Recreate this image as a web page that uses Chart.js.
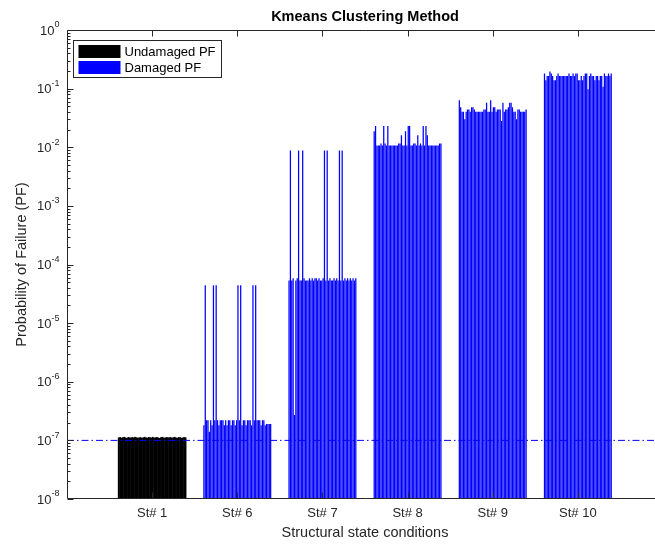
<!DOCTYPE html>
<html>
<head>
<meta charset="utf-8">
<script src="https://cdn.jsdelivr.net/npm/chart.js@4.4.1/dist/chart.umd.min.js"></script>
<style>
    html, body { margin: 0; padding: 0; background: #fff; overflow: hidden; }
    #wrap { width: 655px; height: 544px; overflow: hidden; }
</style>
</head>
<body>
<div id="wrap"><canvas id="pfChart" width="672" height="544"></canvas></div>
<script>
// structural states (x axis)
const states = ['St# 1', 'St# 6', 'St# 7', 'St# 8', 'St# 9', 'St# 10'];

// probability of failure per state, 50 samples each
const st1Pf = [
    1.10e-7, 1.12e-7, 1.09e-7, 1.11e-7, 1.13e-7, 1.10e-7, 1.08e-7, 1.12e-7, 1.11e-7, 1.09e-7,
    1.12e-7, 1.10e-7, 1.13e-7, 1.11e-7, 1.09e-7, 1.10e-7, 1.12e-7, 1.08e-7, 1.11e-7, 1.13e-7,
    1.10e-7, 1.09e-7, 1.12e-7, 1.11e-7, 1.10e-7, 1.13e-7, 1.09e-7, 1.11e-7, 1.12e-7, 1.10e-7,
    1.08e-7, 1.11e-7, 1.13e-7, 1.10e-7, 1.09e-7, 1.12e-7, 1.11e-7, 1.10e-7, 1.12e-7, 1.09e-7,
    1.11e-7, 1.13e-7, 1.10e-7, 1.08e-7, 1.12e-7, 1.11e-7, 1.09e-7, 1.10e-7, 1.12e-7, 1.11e-7
];
const st6Pf = [
    1.8e-7, 4.4e-5, 2.2e-7, 2.2e-7, 1.4e-7, 2.2e-7, 1.8e-7, 4.4e-5, 2.2e-7, 4.4e-5,
    2.2e-7, 1.8e-7, 2.2e-7, 2.2e-7, 2.2e-7, 1.8e-7, 2.2e-7, 1.8e-7, 2.2e-7, 2.2e-7,
    1.8e-7, 2.2e-7, 2.2e-7, 1.8e-7, 2.2e-7, 4.4e-5, 2.2e-7, 4.4e-5, 1.8e-7, 2.2e-7,
    2.2e-7, 1.8e-7, 2.2e-7, 2.2e-7, 2.2e-7, 1.8e-7, 4.4e-5, 2.2e-7, 4.4e-5, 2.2e-7,
    2.2e-7, 2.2e-7, 1.8e-7, 2.2e-7, 2.2e-7, 1.8e-7, 1.9e-7, 1.9e-7, 1.9e-7, 1.9e-7
];
const st7Pf = [
    5.3e-5, 8.8e-3, 5.3e-5, 5.8e-5, 2.7e-7, 5.3e-5, 5.8e-5, 8.8e-3, 5.3e-5, 5.3e-5,
    8.8e-3, 5.8e-5, 5.3e-5, 5.3e-5, 5.3e-5, 5.8e-5, 5.3e-5, 5.8e-5, 5.3e-5, 5.8e-5,
    5.8e-5, 5.3e-5, 5.8e-5, 5.3e-5, 5.3e-5, 5.8e-5, 8.8e-3, 5.3e-5, 8.8e-3, 5.3e-5,
    5.8e-5, 5.3e-5, 5.3e-5, 5.8e-5, 5.3e-5, 5.8e-5, 5.3e-5, 8.8e-3, 5.3e-5, 8.8e-3,
    5.3e-5, 5.8e-5, 5.3e-5, 5.8e-5, 5.3e-5, 5.8e-5, 5.3e-5, 5.8e-5, 5.3e-5, 5.8e-5
];
const st8Pf = [
    0.0186, 0.023, 0.0107, 0.0107, 0.0107, 0.0115, 0.0107, 0.023, 0.0115, 0.0107,
    0.023, 0.0107, 0.0107, 0.0107, 0.0107, 0.0107, 0.0107, 0.0107, 0.0115, 0.0115,
    0.016, 0.0107, 0.0107, 0.0186, 0.0107, 0.023, 0.023, 0.0107, 0.0107, 0.0115,
    0.0115, 0.0107, 0.016, 0.0107, 0.0115, 0.0107, 0.023, 0.0107, 0.023, 0.016,
    0.0107, 0.0107, 0.0107, 0.0107, 0.0107, 0.0107, 0.0107, 0.0107, 0.0115, 0.0115
];
const st9Pf = [
    0.063, 0.048, 0.040, 0.040, 0.030, 0.040, 0.044, 0.044, 0.040, 0.048,
    0.048, 0.044, 0.040, 0.040, 0.040, 0.040, 0.040, 0.040, 0.044, 0.044,
    0.057, 0.040, 0.040, 0.063, 0.040, 0.048, 0.048, 0.040, 0.044, 0.044,
    0.044, 0.028, 0.057, 0.040, 0.044, 0.044, 0.048, 0.057, 0.057, 0.048,
    0.040, 0.040, 0.030, 0.044, 0.044, 0.040, 0.040, 0.040, 0.040, 0.044
];
const st10Pf = [
    0.180, 0.138, 0.164, 0.164, 0.195, 0.180, 0.164, 0.138, 0.138, 0.164,
    0.180, 0.164, 0.164, 0.164, 0.164, 0.164, 0.164, 0.164, 0.180, 0.164,
    0.164, 0.180, 0.164, 0.180, 0.180, 0.138, 0.138, 0.164, 0.138, 0.164,
    0.180, 0.180, 0.097, 0.164, 0.180, 0.164, 0.164, 0.138, 0.164, 0.164,
    0.138, 0.164, 0.164, 0.107, 0.180, 0.164, 0.164, 0.180, 0.164, 0.180
];

// target PF (dash-dot line) and y tick exponents
const targetPf = 1e-7;
const yTickExps = [-8, -7, -6, -5, -4, -3, -2, -1, 0];

// colours
const undamagedColor = '#000000';
const damagedColor = '#0000ff';
const axisColor = '#262626';
const stateColors = [undamagedColor, damagedColor, damagedColor, damagedColor, damagedColor, damagedColor];

const statePf = [st1Pf, st6Pf, st7Pf, st8Pf, st9Pf, st10Pf];
const fontFamily = '"Liberation Sans", Arial, Helvetica, sans-serif';

// empty slots at both ends give the x range [0, 7]
const labels = [''].concat(states, ['']);

// one bar dataset per sample
const datasets = st1Pf.map((_, j) => ({
    type: 'bar',
    data: [null].concat(statePf.map(pf => pf[j]), [null]),
    backgroundColor: [null].concat(stateColors, [null]),
    borderWidth: 0,
    barPercentage: 0.8,
    categoryPercentage: 0.8,
    // undamaged bars touch each other (solid black block)
    inflateAmount: ctx => (ctx.dataIndex === 1 ? 0.4 : 0.08),
    order: 1
}));

datasets.push({
    type: 'line',
    data: labels.map(() => targetPf),
    borderColor: damagedColor,
    borderWidth: 1,
    borderDash: [7, 3, 1.5, 3],
    pointRadius: 0,
    fill: false,
    order: 0
});

// axes box, ticks, texts and legend in MATLAB style
const matlabAxes = {
    id: 'matlabAxes',
    afterDraw(chart) {
        const { ctx, chartArea: a, scales: { x, y } } = chart;
        const L = Math.round(a.left) + 0.5;
        const T = Math.round(a.top) + 0.5;
        const B = Math.round(a.bottom) - 0.5;
        const R = a.right;

        ctx.save();
        ctx.strokeStyle = axisColor;
        ctx.lineWidth = 1;

        ctx.beginPath();
        ctx.moveTo(R, T); ctx.lineTo(L, T); ctx.lineTo(L, B); ctx.lineTo(R, B);
        ctx.stroke();

        // y ticks
        ctx.beginPath();
        yTickExps.forEach(e => {
            const py = Math.round(y.getPixelForValue(Math.pow(10, e))) + 0.5;
            ctx.moveTo(L, py); ctx.lineTo(L + 6, py);
            if (e < 0) {
                for (let m = 2; m <= 9; m++) {
                    const my = Math.round(y.getPixelForValue(m * Math.pow(10, e))) + 0.5;
                    ctx.moveTo(L, my); ctx.lineTo(L + 3, my);
                }
            }
        });
        // x ticks
        states.forEach((s, i) => {
            const px = Math.round(x.getPixelForTick(i + 1)) + 0.5;
            ctx.moveTo(px, B); ctx.lineTo(px, B - 6);
            ctx.moveTo(px, T); ctx.lineTo(px, T + 6);
        });
        ctx.stroke();

        ctx.fillStyle = axisColor;

        // y tick labels 10^e
        yTickExps.forEach(e => {
            const py = y.getPixelForValue(Math.pow(10, e));
            ctx.font = '9px ' + fontFamily;
            const expW = ctx.measureText(String(e)).width;
            ctx.font = '13px ' + fontFamily;
            ctx.textAlign = 'right';
            ctx.textBaseline = 'middle';
            ctx.fillText('10', L - 8 - expW, py + 1);
            ctx.font = '9px ' + fontFamily;
            ctx.textAlign = 'left';
            ctx.fillText(String(e), L - 8 - expW, py - 5);
        });

        // x tick labels
        ctx.font = '13px ' + fontFamily;
        ctx.textAlign = 'center';
        ctx.textBaseline = 'middle';
        states.forEach((s, i) => {
            ctx.fillText(s, x.getPixelForTick(i + 1), a.bottom + 14);
        });

        // axis titles
        const midX = (a.left + a.right) / 2;
        ctx.font = '14.5px ' + fontFamily;
        ctx.fillText('Structural state conditions', midX, a.bottom + 34);
        ctx.save();
        ctx.translate(22, (a.top + a.bottom) / 2);
        ctx.rotate(-Math.PI / 2);
        ctx.fillText('Probability of Failure (PF)', 0, 0);
        ctx.restore();

        // title
        ctx.fillStyle = '#000';
        ctx.font = 'bold 14.5px ' + fontFamily;
        ctx.fillText('Kmeans Clustering Method', midX, 17);

        // legend
        const lx = 73.5, ly = 40.5, lw = 148, lh = 37;
        ctx.fillStyle = '#fff';
        ctx.fillRect(lx, ly, lw, lh);
        ctx.strokeStyle = axisColor;
        ctx.strokeRect(lx, ly, lw, lh);
        const items = [['Undamaged PF', undamagedColor], ['Damaged PF', damagedColor]];
        items.forEach(([text, color], i) => {
            const cy = ly + 10.5 + i * 16;
            ctx.fillStyle = color;
            ctx.fillRect(lx + 5, cy - 6, 42, 13);
            ctx.fillStyle = '#000';
            ctx.font = '13px ' + fontFamily;
            ctx.textAlign = 'left';
            ctx.fillText(text, lx + 51, cy + 1);
        });

        ctx.restore();
    }
};

new Chart(document.getElementById('pfChart'), {
    data: { labels: labels, datasets: datasets },
    options: {
        responsive: false,
        animation: false,
        devicePixelRatio: 1,
        layout: { padding: { left: 67, top: 30, right: 9, bottom: 45 } },
        scales: {
            x: { type: 'category', offset: false, display: false, grid: { display: false } },
            y: { type: 'logarithmic', min: 1e-8, max: 1, display: false, grid: { display: false } }
        },
        plugins: {
            legend: { display: false },
            tooltip: { enabled: false },
            title: { display: false }
        }
    },
    plugins: [matlabAxes]
});
</script>
</body>
</html>
